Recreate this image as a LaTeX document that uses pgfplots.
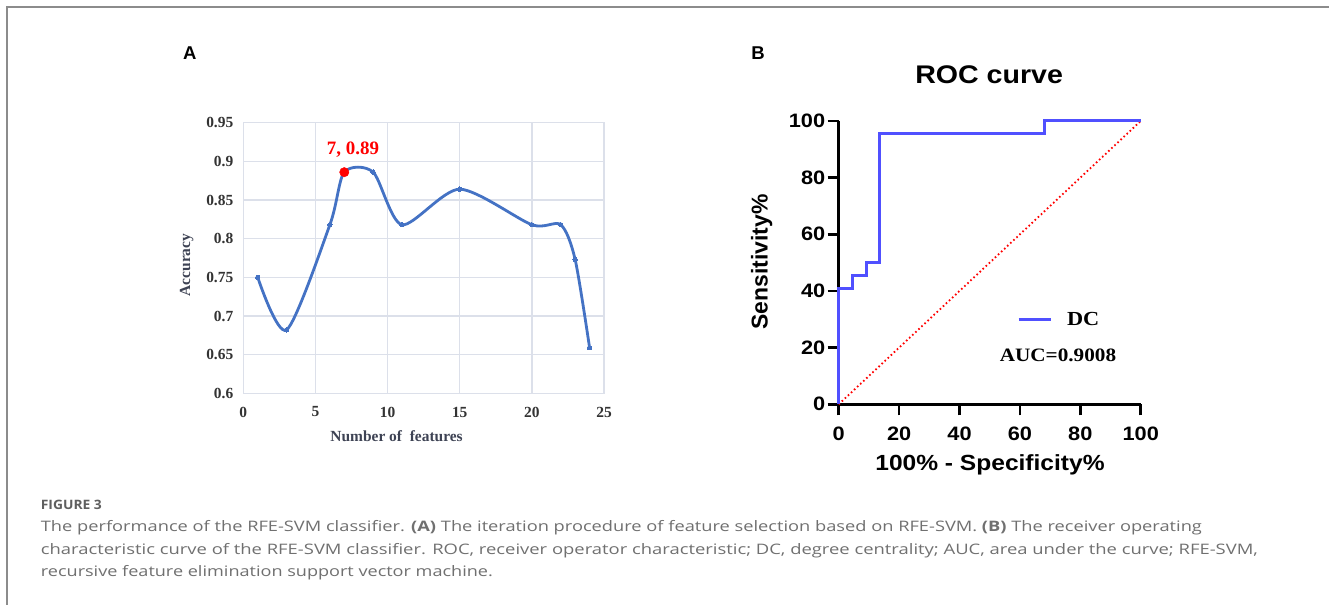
\documentclass[border=0pt]{standalone}
\usepackage{pgfplots}
\pgfplotsset{compat=1.18}
\usepackage{fontspec}
\usepackage{graphicx}
\setmainfont{Liberation Serif}
\newfontfamily\arialf{Liberation Sans}
\newfontfamily\arialw[FakeStretch=1.12]{Liberation Sans}
\newfontfamily\timesw[FakeStretch=1.12]{Liberation Serif}
\newfontfamily\capf{Open Sans}
\definecolor{gridc}{HTML}{DCE0EA}
\definecolor{exblue}{HTML}{4472C4}
\definecolor{ticka}{HTML}{333333}
\definecolor{laba}{HTML}{3E4354}
\definecolor{rocblue}{HTML}{5050FF}
\definecolor{capgray}{HTML}{707070}
\definecolor{framegray}{HTML}{8C8C8C}
\begin{document}
\begin{tikzpicture}[x=1bp,y=1bp]
\path[use as bounding box] (0,0) rectangle (1329,605);
\fill[white] (0,0) rectangle (1329,605);
\draw[framegray, line width=1.8bp] (7.3,0) -- (7.3,597.7) -- (1329,597.7);

% Panel A
\begin{axis}[
  at={(243.3bp,211.7bp)}, anchor=south west,
  scale only axis, width=360.7bp, height=270.6bp,
  xmin=0, xmax=25, ymin=0.6, ymax=0.95,
  xtick={0,5,10,15,20,25}, xticklabels={0,5,10,15,20,25},
  ytick={0.6,0.65,0.7,0.75,0.8,0.85,0.9,0.95},
  yticklabels={0.6,0.65,0.7,0.75,0.8,0.85,0.9,0.95},
  grid=major, major grid style={draw=gridc, line width=1.5bp},
  axis line style={draw=gridc, line width=1.5bp},
  major tick length=0pt,
  ticklabel style={font=\fontsize{15.5}{18}\selectfont\bfseries, text=ticka},
  yticklabel style={xshift=-6.5bp},
  xticklabel style={yshift=-10bp},
  xlabel={Number of\ \ features}, ylabel={Accuracy},
  label style={font=\fontsize{15.5}{18}\selectfont\bfseries, text=laba},
  xlabel style={at={(axis description cs:0.425,-0.160)}, anchor=center},
  ylabel style={at={(axis description cs:-0.157,0.474)}, anchor=center},
  clip=false,
]
\addplot[exblue, line width=2.8bp, smooth, tension=0.46, mark=*, mark size=2.2bp,
  mark options={fill=exblue, draw=exblue, line width=0pt}] coordinates {
(1,0.750)(3,0.682)(6,0.818)(7,0.886)(9,0.886)(11,0.818)(15,0.864)(20,0.818)(22,0.818)(23,0.773)(24,0.659)};
\addplot[only marks, mark=*, mark size=4.7bp, red, mark options={fill=red, draw=red}] coordinates {(7,0.886)};
\node[text=red, font=\fontsize{19}{22}\selectfont\bfseries] at (axis cs:7.6,0.915) {7, 0.89};
\end{axis}

% Panel B
\begin{axis}[
  at={(838.7bp,200.7bp)}, anchor=south west,
  scale only axis, width=302bp, height=283.3bp,
  xmin=0, xmax=100, ymin=0, ymax=100,
  axis x line*=bottom, axis y line*=left,
  xtick pos=left, ytick pos=left,
  axis line style={black, line width=2.7bp},
  xtick={0,20,40,60,80,100}, ytick={0,20,40,60,80,100},
  xticklabels={0,20,40,60,80,100}, yticklabels={0,20,40,60,80,100},
  tick align=outside, major tick length=11bp,
  major tick style={black, line width=2.5bp},
  ticklabel style={font=\arialw\fontsize{19.5}{21}\selectfont\bfseries},
  xticklabel style={yshift=-8bp},
  yticklabel style={xshift=1bp},
  xlabel={100\% - Specificity\%}, ylabel={Sensitivity\%},
  xlabel style={font=\arialw\fontsize{22}{24}\selectfont\bfseries, at={(axis description cs:0.501,-0.214)}, anchor=center},
  ylabel style={font=\arialf\fontsize{23}{25}\selectfont\bfseries, at={(axis description cs:-0.255,0.503)}, anchor=center},
  title={ROC curve},
  title style={font=\arialw\fontsize{25.6}{28}\selectfont\bfseries, at={(axis description cs:0.498,1.141)}, anchor=center},
  legend style={at={(0.590,0.2976)}, anchor=west, draw=none, fill=none, inner sep=0pt, column sep=13bp,
    font=\timesw\fontsize{20}{22}\selectfont\bfseries},
  legend image code/.code={\draw[#1] (0bp,0bp) -- (32bp,0bp);},
  clip=false,
]
\addplot[red, line width=1.8bp, dash pattern=on 1.6bp off 2.6bp, forget plot] coordinates {(0,0)(100,100)};
\addplot[rocblue, line width=3bp, line join=miter] coordinates {
(0,0)(0,40.9)(4.5,40.9)(4.5,45.5)(9.1,45.5)(9.1,50)(13.6,50)(13.6,95.5)(68.2,95.5)(68.2,100)(100,100)};
\addlegendentry{DC}
\node[font=\timesw\fontsize{19}{22}\selectfont\bfseries] at (axis cs:72.6,17.4) {AUC=0.9008};
\end{axis}

% panel letters
\node[font=\arialf\fontsize{18.6}{20}\selectfont\bfseries] at (189.7,551.7) {A};
\node[font=\arialf\fontsize{18.6}{20}\selectfont\bfseries] at (758,551.7) {B};

% caption
\node[anchor=base west, inner sep=0pt, text=capgray!85!black, font=\capf\fontsize{13}{15}\selectfont\bfseries] at (40.7,95) {\resizebox{61bp}{\height}{FIGURE 3}};
\node[anchor=base west, inner sep=0pt, text=capgray, font=\capf\fontsize{14.5}{17}\selectfont] at (40.7,73) {\resizebox{1161bp}{\height}{The performance of the RFE-SVM classifier. \textbf{(A)} The iteration procedure of feature selection based on RFE-SVM. \textbf{(B)} The receiver operating}};
\node[anchor=base west, inner sep=0pt, text=capgray, font=\capf\fontsize{14.5}{17}\selectfont] at (40.7,50.5) {\resizebox{1217bp}{\height}{characteristic curve of the RFE-SVM classifier. ROC, receiver operator characteristic; DC, degree centrality; AUC, area under the curve; RFE-SVM,}};
\node[anchor=base west, inner sep=0pt, text=capgray, font=\capf\fontsize{14.5}{17}\selectfont] at (40.7,28) {\resizebox{452bp}{\height}{recursive feature elimination support vector machine.}};
\end{tikzpicture}
\end{document}
